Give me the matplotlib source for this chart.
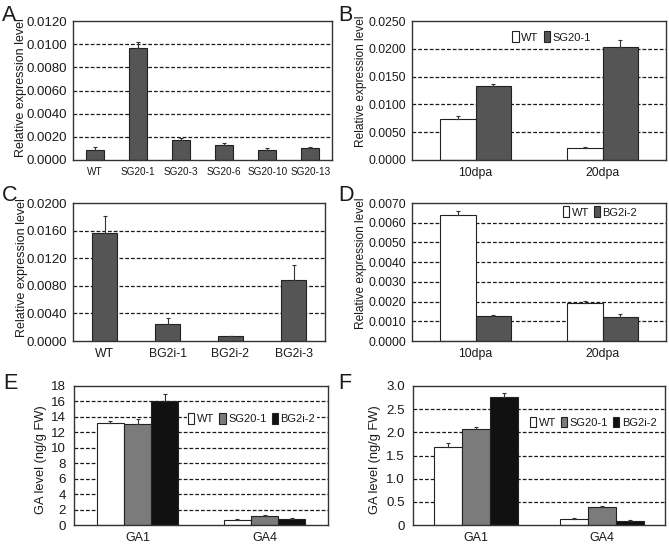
import numpy as np
import matplotlib
matplotlib.use("Agg")
import matplotlib.pyplot as plt
from matplotlib.patches import Patch
from matplotlib.ticker import FuncFormatter

plt.rcParams['font.family'] = ['Liberation Sans', 'DejaVu Sans']
plt.rcParams['text.color'] = '#1a1a1a'
plt.rcParams['axes.labelcolor'] = '#1a1a1a'
plt.rcParams['xtick.color'] = '#1a1a1a'
plt.rcParams['ytick.color'] = '#1a1a1a'

# A: single series
a_cats = ['WT', 'SG20-1', 'SG20-3', 'SG20-6', 'SG20-10', 'SG20-13']
a_vals = [0.00083, 0.0097, 0.0017, 0.0013, 0.00086, 0.00103]
a_err = [0.00032, 0.0005, 0.0002, 0.00014, 0.00017, 0.0001]

# B: grouped
b_cats = ['10dpa', '20dpa']
b_series = ['WT', 'SG20-1']
b_vals = [[0.0074, 0.0021], [0.0133, 0.0204]]
b_err = [[0.0006, 0.0003], [0.0004, 0.0012]]

# C: single series
c_cats = ['WT', 'BG2i-1', 'BG2i-2', 'BG2i-3']
c_vals = [0.0156, 0.00245, 0.00067, 0.0089]
c_err = [0.0025, 0.0009, 0.0001, 0.0021]

# D: grouped
d_cats = ['10dpa', '20dpa']
d_series = ['WT', 'BG2i-2']
d_vals = [[0.0064, 0.00195], [0.00126, 0.00124]]
d_err = [[0.00017, 0.0001], [0.00005, 0.00013]]

# E, F: three series
ga_cats = ['GA1', 'GA4']
ga_series = ['WT', 'SG20-1', 'BG2i-2']
e_vals = [[13.25, 0.6], [13.08, 1.17], [16.06, 0.8]]
e_err = [[0.25, 0.13], [0.6, 0.08], [0.86, 0.05]]
f_vals = [[1.68, 0.137], [2.072, 0.396], [2.77, 0.094]]
f_err = [[0.1, 0.02], [0.043, 0.021], [0.086, 0.021]]

DARK = '#555555'
MID = '#7b7b7b'
BLACK = '#111111'
WHITE = '#ffffff'

W, H = 669, 546
fig = plt.figure(figsize=(W / 100, H / 100), dpi=100)


def add_ax(l, r, t, b):
    return fig.add_axes([l / W, (H - b) / H, (r - l) / W, (b - t) / H])


def style(ax, ymax, step, fmt, tick_fs, xlab_fs, ypad=4):
    ax.set_ylim(0, ymax)
    ticks = np.arange(0, ymax + step / 2, step)
    ax.set_yticks(ticks)
    ax.yaxis.set_major_formatter(FuncFormatter(fmt))
    for t in ticks[1:-1]:
        ax.axhline(t, color='#1a1a1a', lw=0.9, ls=(0, (3, 1.6)), zorder=1)
    ax.tick_params(axis='y', length=0, pad=ypad, labelsize=tick_fs)
    ax.tick_params(axis='x', length=0, pad=5, labelsize=xlab_fs)
    for s in ax.spines.values():
        s.set_color('#333333')
        s.set_linewidth(1.0)


def single(ax, cats, vals, err, width):
    x = np.arange(len(cats))
    ax.bar(x, vals, width, color=DARK, edgecolor='#222222', lw=0.8, zorder=2,
           yerr=[np.zeros(len(vals)), err], error_kw=dict(ecolor='#333333', elinewidth=0.8, capsize=1.5, capthick=0.8))
    ax.set_xticks(x)
    ax.set_xticklabels(cats)
    ax.set_xlim(-0.5, len(cats) - 0.5)


def grouped(ax, cats, series, vals, err, colors, width):
    x = np.arange(len(cats))
    n = len(series)
    for i, name in enumerate(series):
        off = (i - (n - 1) / 2) * width
        ax.bar(x + off, vals[i], width, color=colors[i], edgecolor='#222222', lw=0.8, zorder=2, label=name,
               yerr=[np.zeros(len(vals[i])), err[i]],
               error_kw=dict(ecolor='#333333', elinewidth=0.8, capsize=1.5, capthick=0.8))
    ax.set_xticks(x)
    ax.set_xticklabels(cats)
    ax.set_xlim(-0.5, len(cats) - 0.5)


def legend(ax, series, colors, cx, cy, fs):
    handles = [Patch(facecolor=c, edgecolor='#222222', lw=0.8) for c in colors]
    lg = ax.legend(handles, series, loc='center', bbox_to_anchor=(cx, cy), ncol=len(series), frameon=True,
                   fontsize=fs, handlelength=0.55, handleheight=1.1, handletextpad=0.25, columnspacing=0.45,
                   borderpad=0.15, borderaxespad=0)
    lg.get_frame().set_edgecolor('none')
    lg.get_frame().set_facecolor('white')
    lg.get_frame().set_alpha(1)
    lg.set_zorder(5)


f4 = lambda v, p: '%.4f' % v
fint = lambda v, p: '%d' % v
f1 = lambda v, p: '0' if v == 0 else '%.1f' % v

axA = add_ax(73, 332, 21, 160)
single(axA, a_cats, a_vals, a_err, 0.42)
style(axA, 0.012, 0.002, f4, 9.5, 7.2)

axB = add_ax(412, 666, 21, 160)
grouped(axB, b_cats, b_series, b_vals, b_err, [WHITE, DARK], 0.28)
style(axB, 0.025, 0.005, f4, 8.8, 8.8)
legend(axB, b_series, [WHITE, DARK], 0.55, 0.885, 8)

axC = add_ax(73, 325, 203, 341)
single(axC, c_cats, c_vals, c_err, 0.41)
style(axC, 0.020, 0.004, f4, 9.5, 8.8)

axD = add_ax(412, 666, 203, 341)
grouped(axD, d_cats, d_series, d_vals, d_err, [WHITE, DARK], 0.28)
style(axD, 0.007, 0.001, f4, 8.8, 8.8)
legend(axD, d_series, [WHITE, DARK], 0.74, 0.935, 8)

axE = add_ax(74, 328, 386, 525)
grouped(axE, ga_cats, ga_series, e_vals, e_err, [WHITE, MID, BLACK], 0.215)
style(axE, 18, 2, fint, 9.6, 9, ypad=6)
legend(axE, ga_series, [WHITE, MID, BLACK], 0.70, 0.765, 8)

axF = add_ax(413, 665, 386, 525)
grouped(axF, ga_cats, ga_series, f_vals, f_err, [WHITE, MID, BLACK], 0.22)
style(axF, 3.0, 0.5, f1, 9.6, 9, ypad=6)
legend(axF, ga_series, [WHITE, MID, BLACK], 0.716, 0.74, 8)

for ax, xc, yc, lab, fs in [(axA, -0.199, 0.52, 'Relative expression level', 9.0),
                            (axB, -0.2, 0.565, 'Relative expression level', 8.6),
                            (axC, -0.204, 0.53, 'Relative expression level', 9.0),
                            (axD, -0.2, 0.56, 'Relative expression level', 8.6),
                            (axE, -0.13, 0.47, 'GA level (ng/g FW)', 9.3),
                            (axF, -0.151, 0.47, 'GA level (ng/g FW)', 9.3)]:
    ax.set_ylabel(lab, fontsize=fs, va='center')
    ax.yaxis.set_label_coords(xc, yc)

for letter, x, y in [('A', 2, 5), ('B', 338, 5), ('C', 2, 185), ('D', 338, 185), ('E', 3, 373), ('F', 338, 373)]:
    fig.text(x / W, 1 - y / H, letter, fontsize=15.5, ha='left', va='top')

fig.savefig('out.png', dpi=100)
